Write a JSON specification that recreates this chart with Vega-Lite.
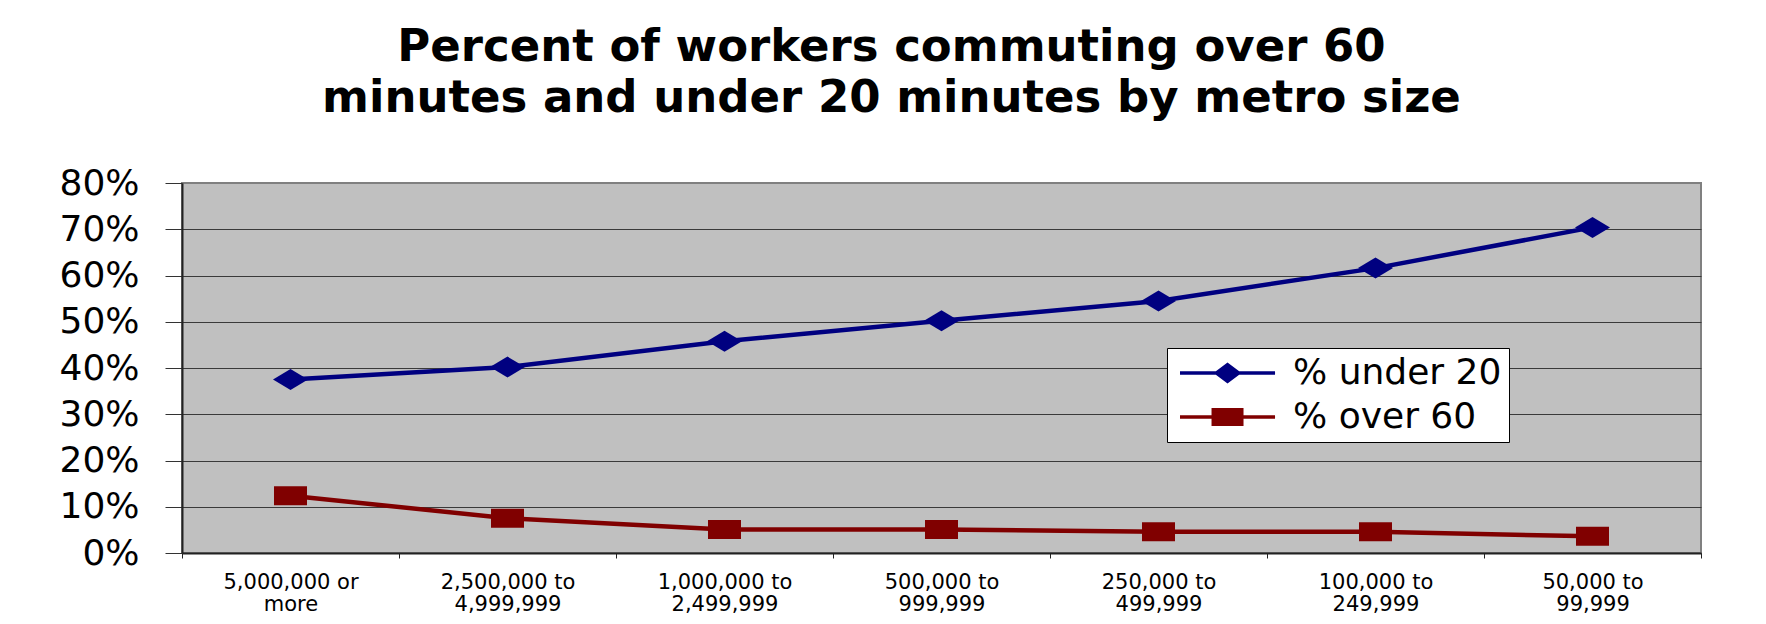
{
  "$schema": "https://vega.github.io/schema/vega-lite/v6.json",
  "autosize": {"type": "none"},
  "width": 1519,
  "height": 370,
  "padding": {"left": 182, "top": 183, "right": 65, "bottom": 71},
  "background": "white",
  "title": {
    "text": ["Percent of workers commuting over 60", "minutes and under 20 minutes by metro size"],
    "font": "DejaVu Sans",
    "fontSize": 45,
    "fontWeight": "bold",
    "color": "black",
    "anchor": "middle",
    "frame": "group",
    "dx": -50,
    "lineHeight": 51,
    "offset": 44
  },
  "data": {
    "values": [
      {"size": "5,000,000 or more", "series": "% under 20", "value": 0.375},
      {"size": "2,500,000 to 4,999,999", "series": "% under 20", "value": 0.402},
      {"size": "1,000,000 to 2,499,999", "series": "% under 20", "value": 0.458},
      {"size": "500,000 to 999,999", "series": "% under 20", "value": 0.502},
      {"size": "250,000 to 499,999", "series": "% under 20", "value": 0.545},
      {"size": "100,000 to 249,999", "series": "% under 20", "value": 0.616},
      {"size": "50,000 to 99,999", "series": "% under 20", "value": 0.704},
      {"size": "5,000,000 or more", "series": "% over 60", "value": 0.124},
      {"size": "2,500,000 to 4,999,999", "series": "% over 60", "value": 0.075},
      {"size": "1,000,000 to 2,499,999", "series": "% over 60", "value": 0.051},
      {"size": "500,000 to 999,999", "series": "% over 60", "value": 0.051},
      {"size": "250,000 to 499,999", "series": "% over 60", "value": 0.046},
      {"size": "100,000 to 249,999", "series": "% over 60", "value": 0.046},
      {"size": "50,000 to 99,999", "series": "% over 60", "value": 0.036}
    ]
  },
  "encoding": {
    "x": {
      "field": "size",
      "type": "nominal",
      "bandPosition": 0.5,
      "scale": {
        "type": "band",
        "paddingInner": 0,
        "paddingOuter": 0,
        "domain": ["5,000,000 or more", "2,500,000 to 4,999,999", "1,000,000 to 2,499,999", "500,000 to 999,999", "250,000 to 499,999", "100,000 to 249,999", "50,000 to 99,999"]
      },
      "axis": {
        "title": null,
        "labelAngle": 0,
        "labelFont": "DejaVu Sans",
        "labelFontSize": 21,
        "labelColor": "black",
        "labelLineHeight": 22,
        "labelPadding": 13,
        "labelExpr": "[slice(datum.label, 0, lastindexof(datum.label, ' ')), slice(datum.label, lastindexof(datum.label, ' ') + 1)]",
        "tickBand": "extent",
        "tickSize": 5,
        "tickColor": "#222222",
        "tickWidth": 1,
        "domainColor": "#222222",
        "domainWidth": 2,
        "grid": false
      }
    },
    "y": {
      "field": "value",
      "type": "quantitative",
      "scale": {"domain": [0, 0.8], "nice": false},
      "axis": {
        "title": null,
        "values": [0, 0.1, 0.2, 0.3, 0.4, 0.5, 0.6, 0.7, 0.8],
        "format": ".0%",
        "labelFont": "DejaVu Sans",
        "labelFontSize": 36,
        "labelColor": "black",
        "labelPadding": 26,
        "tickSize": 17,
        "tickColor": "#333333",
        "tickWidth": 1,
        "domainColor": "#222222",
        "domainWidth": 2,
        "grid": true,
        "gridColor": {"condition": {"test": "datum.value >= 0.79", "value": "#808080"}, "value": "#3a3a3a"},
        "gridWidth": 1
      }
    }
  },
  "layer": [
    {
      "transform": [{"filter": {"field": "series", "equal": "__legend_only__"}}],
      "mark": {"type": "point", "filled": true, "opacity": 1},
      "encoding": {
        "color": {
          "field": "series",
          "type": "nominal",
          "scale": {"domain": ["% under 20", "% over 60"], "range": ["#000080", "#800000"]},
          "legend": {"orient": "none", "legendX": 985, "legendY": 165, "title": null}
        },
        "shape": {
          "field": "series",
          "type": "nominal",
          "scale": {
            "domain": ["% under 20", "% over 60"],
            "range": [
              "M-1,-0.15H6.92V0.15H-1Z M2.96,-0.875L4.127,0L2.96,0.875L1.793,0Z",
              "M-1,-0.15H6.92V0.15H-1Z M1.627,-0.75H4.293V0.75H1.627Z"
            ]
          },
          "legend": {"orient": "none", "legendX": 985, "legendY": 165, "title": null}
        }
      }
    },
    {
      "mark": {"type": "line", "strokeWidth": 4.5},
      "encoding": {
        "color": {"field": "series", "type": "nominal"}
      }
    },
    {
      "transform": [{"filter": {"field": "series", "equal": "% under 20"}}],
      "mark": {"type": "point", "filled": true, "opacity": 1, "size": 1225, "shape": "M0,-0.6L1,0L0,0.6L-1,0Z", "strokeWidth": 0},
      "encoding": {
        "color": {"field": "series", "type": "nominal"}
      }
    },
    {
      "transform": [{"filter": {"field": "series", "equal": "% over 60"}}],
      "mark": {"type": "point", "filled": true, "opacity": 1, "size": 1225, "shape": "M-0.943,-0.543H0.943V0.543H-0.943Z", "strokeWidth": 0},
      "encoding": {
        "color": {"field": "series", "type": "nominal"}
      }
    }
  ],
  "config": {
    "font": "DejaVu Sans",
    "view": {"fill": "#C0C0C0", "stroke": "#808080", "strokeWidth": 2},
    "legend": {
      "fillColor": "white",
      "strokeColor": "black",
      "strokeWidth": 1,
      "cornerRadius": 0,
      "padding": 7,
      "labelFont": "DejaVu Sans",
      "labelFontSize": 36,
      "labelColor": "black",
      "labelLimit": 400,
      "symbolSize": 576,
      "symbolStrokeWidth": 0,
      "labelOffset": 83,
      "rowPadding": 8
    }
  }
}
